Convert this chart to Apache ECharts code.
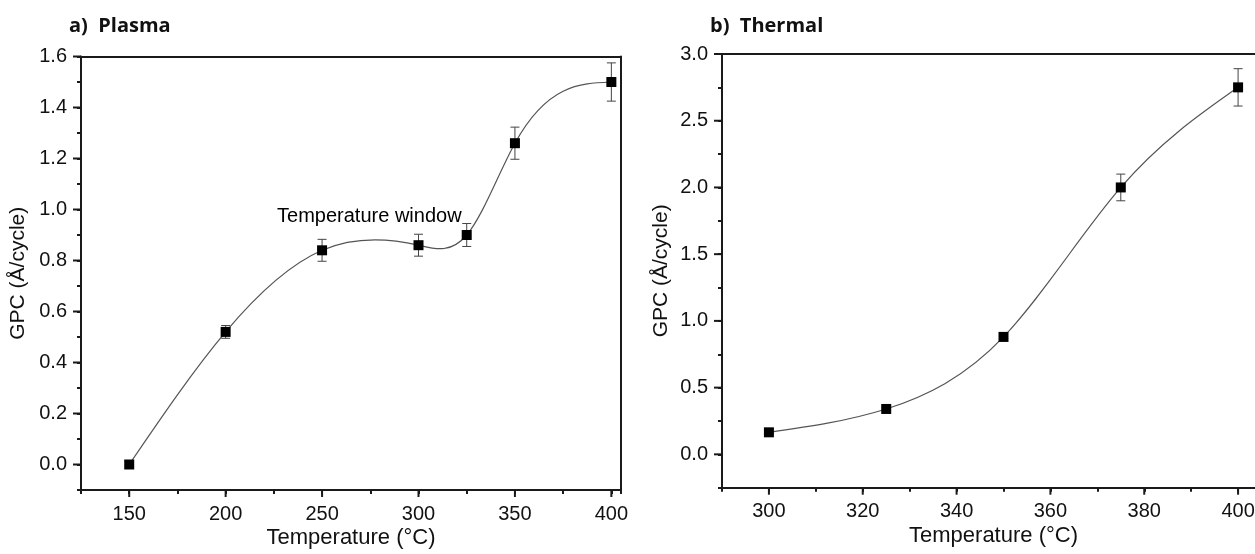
<!DOCTYPE html>
<html><head><meta charset="utf-8">
<script src="https://cdn.jsdelivr.net/npm/echarts@6/dist/echarts.min.js"></script>
<style>html,body{margin:0;padding:0;background:#fff}#c{width:1255px;height:554px}</style>
</head><body><div id="c"></div>
<script>
// ---- data ----
const plasmaTemp = [150, 200, 250, 300, 325, 350, 400];
const plasmaGPC  = [0.00, 0.52, 0.84, 0.86, 0.90, 1.26, 1.50];
const plasmaErr  = [0, 0.025, 0.043, 0.043, 0.045, 0.063, 0.075];
const thermalTemp = [300, 325, 350, 375, 400];
const thermalGPC  = [0.165, 0.34, 0.88, 2.00, 2.75];
const thermalErr  = [0.01, 0.01, 0.03, 0.10, 0.14];
// tick labels (major ticks)
const plasmaXTicks = [150, 200, 250, 300, 350, 400];
const plasmaYTicks = [0, 0.2, 0.4, 0.6, 0.8, 1.0, 1.2, 1.4, 1.6];
const thermalXTicks = [300, 320, 340, 360, 380, 400];
const thermalYTicks = [0, 0.5, 1.0, 1.5, 2.0, 2.5, 3.0];
// axis ranges / minor tick step / label step
const plasmaX  = { min: 125, max: 405, tick: 25, label: 50 };
const plasmaY  = { min: -0.1, max: 1.6, tick: 0.1, label: 0.2 };
const thermalX = { min: 290, max: 410, tick: 10, label: 20 };
const thermalY = { min: -0.25, max: 3.0, tick: 0.25, label: 0.5 };
const titles = ['a)  Plasma', 'b)  Thermal'];
const xName = 'Temperature (°C)';
const yName = 'GPC (Å/cycle)';
const annotationText = 'Temperature window';

// ---- helpers ----
function naturalSpline(xs, ys) {
  const n = xs.length, h = [], M = new Array(n).fill(0);
  for (let i = 0; i < n - 1; i++) h.push(xs[i + 1] - xs[i]);
  const a = [], b = [], c = [], d = [];
  for (let i = 1; i < n - 1; i++) {
    a.push(h[i - 1]); b.push(2 * (h[i - 1] + h[i])); c.push(h[i]);
    d.push(6 * ((ys[i + 1] - ys[i]) / h[i] - (ys[i] - ys[i - 1]) / h[i - 1]));
  }
  const m = b.length;
  for (let i = 1; i < m; i++) { const w = a[i] / b[i - 1]; b[i] -= w * c[i - 1]; d[i] -= w * d[i - 1]; }
  const sol = new Array(m);
  for (let i = m - 1; i >= 0; i--) sol[i] = (d[i] - (i < m - 1 ? c[i] * sol[i + 1] : 0)) / b[i];
  for (let i = 0; i < m; i++) M[i + 1] = sol[i];
  const segs = [];
  for (let i = 0; i < n - 1; i++) {
    const hi = h[i], s = (ys[i + 1] - ys[i]) / hi;
    const d0 = s - hi * (2 * M[i] + M[i + 1]) / 6;
    const d1 = s + hi * (M[i] + 2 * M[i + 1]) / 6;
    segs.push([[xs[i], ys[i]], [xs[i] + hi / 3, ys[i] + d0 * hi / 3],
               [xs[i + 1] - hi / 3, ys[i + 1] - d1 * hi / 3], [xs[i + 1], ys[i + 1]]]);
  }
  return segs;
}

const FONT = 'Liberation Sans, Arial, sans-serif';
const AX = '#1a1a1a';
function labelFmt(spec, digits) {
  return v => {
    const k = Math.round(v / spec.label * 1000) / 1000;
    return Math.abs(k - Math.round(k)) < 1e-6 ? v.toFixed(digits) : '';
  };
}
function frame(g, pos, spec) {
  return { type: 'value', gridIndex: g, position: pos, min: spec.min, max: spec.max,
    axisLine: { show: true, onZero: false, lineStyle: { color: AX, width: 2 } },
    axisTick: { show: false }, axisLabel: { show: false }, splitLine: { show: false } };
}
function xAxes(g, spec, nameGap, namePad) {
  return [
    { type: 'value', gridIndex: g, position: 'bottom', min: spec.min, max: spec.max, interval: spec.tick,
      name: xName, nameLocation: 'middle', nameGap, nameMoveOverlap: false,
      nameTextStyle: { fontFamily: FONT, fontSize: 22, color: '#111', padding: namePad },
      axisLine: { show: true, onZero: false, lineStyle: { color: AX, width: 2 } },
      axisTick: { show: true, inside: false, length: 4, lineStyle: { color: AX, width: 2 } },
      axisLabel: { show: true, margin: 14, formatter: labelFmt(spec, 0), showMinLabel: true, showMaxLabel: true,
                   fontFamily: FONT, fontSize: 20, color: '#111' },
      splitLine: { show: false } },
    frame(g, 'top', spec)
  ];
}
function yAxes(g, spec, nameGap) {
  return [
    { type: 'value', gridIndex: g, position: 'left', min: spec.min, max: spec.max, interval: spec.tick,
      name: yName, nameLocation: 'middle', nameGap, nameMoveOverlap: false,
      nameTextStyle: { fontFamily: FONT, fontSize: 21, color: '#111' },
      axisLine: { show: true, onZero: false, lineStyle: { color: AX, width: 2 } },
      axisTick: { show: true, inside: false, length: 4, lineStyle: { color: AX, width: 2 } },
      axisLabel: { show: true, margin: 14, formatter: labelFmt(spec, 1), showMinLabel: true, showMaxLabel: true,
                   fontFamily: FONT, fontSize: 20, color: '#111' },
      splitLine: { show: false } },
    frame(g, 'right', spec)
  ];
}
// major ticks drawn through the axes' scales (outward from the bottom / left axis lines)
function majorTickSeries(ax, xSpec, ySpec, xTicks, yTicks) {
  const data = xTicks.map(v => [v, ySpec.min, 0]).concat(yTicks.map(v => [xSpec.min, v, 1]));
  return { type: 'custom', xAxisIndex: ax, yAxisIndex: ax, z: 5, silent: true, clip: false,
    data, encode: { x: 0, y: 1 },
    renderItem(params, api) {
      const p = api.coord([api.value(0), api.value(1)]);
      const st = { stroke: AX, lineWidth: 2 };
      if (api.value(2) === 0)
        return { type: 'line', shape: { x1: p[0], y1: p[1], x2: p[0], y2: p[1] + 7 }, style: st };
      return { type: 'line', shape: { x1: p[0], y1: p[1], x2: p[0] - 8, y2: p[1] }, style: st };
    } };
}

function curveSeries(ax, xs, ys) {
  const segs = naturalSpline(xs, ys);
  return { type: 'custom', xAxisIndex: ax, yAxisIndex: ax, z: 1, silent: true,
    data: xs.map((x, i) => [x, ys[i]]),
    renderItem(params, api) {
      const i = params.dataIndex;
      if (i >= segs.length) return { type: 'group', children: [] };
      const p = segs[i].map(q => api.coord(q));
      return { type: 'bezierCurve',
        shape: { x1: p[0][0], y1: p[0][1], cpx1: p[1][0], cpy1: p[1][1],
                 cpx2: p[2][0], cpy2: p[2][1], x2: p[3][0], y2: p[3][1] },
        style: { stroke: '#555', lineWidth: 1.2, fill: null } };
    } };
}
function errorSeries(ax, xs, ys, es) {
  return { type: 'custom', xAxisIndex: ax, yAxisIndex: ax, z: 2, silent: true,
    data: xs.map((x, i) => [x, ys[i], es[i]]),
    encode: { x: 0, y: 1 },
    renderItem(params, api) {
      const x = api.value(0), y = api.value(1), e = api.value(2);
      if (!e) return { type: 'group', children: [] };
      const t = api.coord([x, y + e]), b = api.coord([x, y - e]), w = 4.5;
      const st = { stroke: '#444', lineWidth: 1 };
      return { type: 'group', children: [
        { type: 'line', shape: { x1: t[0], y1: t[1], x2: b[0], y2: b[1] }, style: st },
        { type: 'line', shape: { x1: t[0] - w, y1: t[1], x2: t[0] + w, y2: t[1] }, style: st },
        { type: 'line', shape: { x1: b[0] - w, y1: b[1], x2: b[0] + w, y2: b[1] }, style: st }
      ] };
    } };
}
function markerSeries(ax, xs, ys) {
  return { type: 'scatter', xAxisIndex: ax, yAxisIndex: ax, z: 3, silent: true,
    symbol: 'rect', symbolSize: 10, itemStyle: { color: '#000', opacity: 1 },
    data: xs.map((x, i) => [x, ys[i]]) };
}

const option = {
  animation: false,
  backgroundColor: '#fff',
  title: [
    { text: titles[0], left: 64, top: 11, textStyle: { fontFamily: 'Open Sans', fontWeight: 'bold', fontSize: 20, color: '#111' } },
    { text: titles[1], left: 705, top: 11, textStyle: { fontFamily: 'Open Sans', fontWeight: 'bold', fontSize: 20, color: '#111' } }
  ],
  grid: [
    { left: 81, right: 634, top: 56.5, bottom: 64, containLabel: false, outerBoundsMode: 'none' },
    { left: 722, right: -30, top: 54, bottom: 66.3, containLabel: false, outerBoundsMode: 'none' }
  ],
  xAxis: [
    ...xAxes(0, plasmaX, 37, [0, 0, 0, 0]),
    ...xAxes(1, thermalX, 37, [0, 20, 0, 0])
  ],
  yAxis: [
    ...yAxes(0, plasmaY, 52),
    ...yAxes(1, thermalY, 50)
  ],
  series: [
    majorTickSeries(0, plasmaX, plasmaY, plasmaXTicks, plasmaYTicks),
    majorTickSeries(2, thermalX, thermalY, thermalXTicks, thermalYTicks),
    curveSeries(0, plasmaTemp, plasmaGPC),
    errorSeries(0, plasmaTemp, plasmaGPC, plasmaErr),
    markerSeries(0, plasmaTemp, plasmaGPC),
    curveSeries(2, thermalTemp, thermalGPC),
    errorSeries(2, thermalTemp, thermalGPC, thermalErr),
    markerSeries(2, thermalTemp, thermalGPC),
    { type: 'scatter', xAxisIndex: 0, yAxisIndex: 0, z: 4, silent: true, symbolSize: 0,
      itemStyle: { opacity: 1 },
      data: [[274.5, 0.974]],
      label: { show: true, position: 'inside', formatter: annotationText,
               fontFamily: FONT, fontSize: 20, color: '#000', opacity: 1 } }
  ]
};
const chart = echarts.init(document.getElementById('c'), null, { renderer: 'canvas' });
chart.setOption(option);
</script>
</body></html>
